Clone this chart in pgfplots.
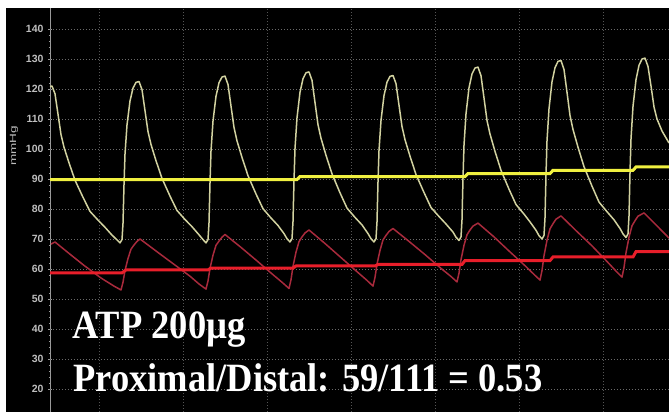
\documentclass[border=0pt]{standalone}
\usepackage{fontspec}
\setmainfont{Liberation Serif}
\newfontfamily\sansf{Liberation Sans}
\usepackage{pgfplots}
\pgfplotsset{compat=1.18}
\definecolor{axisgray}{HTML}{9A9A9A}
\definecolor{labelgray}{HTML}{BEBEBE}
\definecolor{gridgray}{HTML}{6A6A6A}
\definecolor{ytrace}{HTML}{D2D2A0}
\definecolor{ymean}{HTML}{F0F040}
\definecolor{rtrace}{HTML}{A82A3C}
\definecolor{rmean}{HTML}{E81E2A}
\begin{document}
\begin{tikzpicture}
\begin{axis}[
  name=ax, scale only axis, width=663pt, height=404pt,
  xmin=-44, xmax=619, ymin=12.33, ymax=147,
  axis x line=none, axis y line=center,
  axis line style={-, draw=axisgray, line width=0.8pt},
  ytick={20,30,40,50,60,70,80,90,100,110,120,130,140}, minor y tick num=4,
  xtick=\empty,
  major tick length=4pt, minor tick length=2.5pt,
  tick style={draw=axisgray, line width=0.6pt},
  /pgf/number format/assume math mode=true,
  yticklabel style={font=\sansf\bfseries\fontsize{10.5}{11}\selectfont, text=labelgray, anchor=east, xshift=-1pt},
  axis background/.style={fill=black},
]
\pgfplotsinvokeforeach{20,30,40,50,60,70,80,90,100,110,120,130,140}{
  \draw[gridgray, line width=0.7pt, dash pattern=on 1pt off 2pt] (axis cs:0,#1) -- (axis cs:619,#1);
}
\pgfplotsinvokeforeach{49,133,217,301,385,469,553}{
  \draw[gridgray!80!black, line width=0.6pt, dash pattern=on 1pt off 2pt] (axis cs:#1,12.33) -- (axis cs:#1,147);
}
% aortic (proximal) phasic pressure
\addplot[ytrace, line width=1.5pt, line join=round] coordinates {
(0,120.8) (2,121) (5,118.4) (8,111.6) (11,104.8) (14,100.6) (19,95.4) (25,89.6) (33,83.9) (40,79.2) (48,76.3) (55,73.9) (62,71.3) (67,69.7) (70,68.7)
(72,69.8) (73,75.2) (74,88.1) (75,98.3) (77,108.0) (80,116.0) (83,120.3) (86,122.2) (89,122.5) (92,119.8) (95,112.8) (98,105.8) (101,101.5) (106,96.1) (112,90.2) (120,84.3) (127,79.5) (135,76.5) (142,74.1) (149,71.4) (153,69.8) (156,68.7)
(158,69.8) (159,75.4) (160,88.7) (161,99.3) (163,109.3) (166,117.6) (169,122.1) (172,124.0) (175,124.3) (178,121.5) (181,114.3) (184,107.2) (187,102.7) (192,97.2) (198,91.1) (206,85.0) (213,80.1) (221,77.0) (228,74.5) (234,71.8) (237,70.1) (240,69)
(242,70.1) (243,75.8) (244,89.4) (245,100.2) (247,110.4) (250,118.9) (253,123.4) (256,125.4) (259,125.7) (262,122.9) (265,115.5) (268,108.1) (271,103.6) (276,97.9) (282,91.7) (290,85.4) (297,80.3) (305,77.2) (312,74.7) (318,71.8) (321,70.1) (324,69)
(326,70.1) (327,75.7) (328,89.0) (329,99.5) (331,109.5) (334,117.8) (337,122.3) (340,124.2) (343,124.5) (346,121.8) (349,114.6) (352,107.5) (355,103.1) (360,97.6) (366,91.5) (374,85.5) (381,80.5) (389,77.5) (396,75.0) (403,72.3) (406,70.6) (409,69.5)
(411,70.7) (412,76.4) (413,90.3) (414,101.3) (416,111.7) (419,120.4) (422,125.0) (425,127.0) (428,127.3) (431,124.4) (434,117.0) (437,109.5) (440,105.0) (445,99.2) (451,92.9) (459,86.6) (466,81.5) (474,78.3) (480,75.7) (486,72.9) (489,71.1) (492,70)
(494,71.2) (495,77.1) (496,91.4) (497,102.7) (499,113.4) (502,122.4) (505,127.1) (508,129.2) (511,129.5) (514,126.5) (517,118.9) (520,111.2) (523,106.5) (528,100.6) (534,94.1) (542,87.6) (549,82.3) (557,79.1) (564,76.4) (570,73.5) (573,71.7) (576,70.5)
(578,71.7) (579,77.7) (580,92.0) (581,103.4) (583,114.2) (586,123.1) (589,127.9) (592,130.0) (595,130.3) (598,127.5) (601,121) (604,114) (607,110) (612,106) (619,102)
};
% distal phasic pressure
\addplot[rtrace, line width=1.5pt, line join=round] coordinates {
(1,68.3) (5,69) (19,65.2) (34,61.2) (51,57) (64,54.3) (71,53)
(73,55.6) (75,59.5) (78,63.5) (81,66.6) (84,68.0) (87,69.2) (90,70) (106,66.0) (123,61.8) (140,57.6) (149,55.0) (156,53.3)
(158,56.0) (160,60.2) (163,64.6) (166,67.9) (169,69.3) (172,70.6) (175,71.5) (191,67.2) (207,62.7) (223,58.1) (233,55.3) (239,53.5)
(241,56.4) (243,60.9) (246,65.6) (249,69.1) (252,70.7) (255,72.0) (259,73) (275,68.5) (291,63.8) (307,59.1) (317,56.2) (323,54.3)
(325,57.2) (327,61.6) (330,66.2) (333,69.7) (336,71.2) (339,72.5) (343,73.5) (359,69.2) (375,64.8) (391,60.2) (401,57.5) (407,55.7)
(409,58.6) (411,63.1) (414,67.9) (417,71.4) (420,73.0) (423,74.3) (428,75.3) (444,70.7) (459,66.0) (475,61.1) (484,58.2) (490,56.3)
(492,59.5) (494,64.4) (497,69.6) (500,73.4) (503,75.1) (506,76.6) (511,77.7) (526,72.8) (542,67.7) (557,62.5) (566,59.3) (572,57.3)
(574,60.5) (576,65.4) (579,70.6) (582,74.4) (585,76.1) (588,77.6) (594,78.7) (606,74.7) (619,70.3)
};
% mean proximal pressure
\addplot[ymean, line width=3pt] coordinates {
(0,89.8) (247,89.8) (250,90.8) (415,90.8) (418,91.8) (500,91.8) (503,92.9) (583,92.9) (586,94) (619,94)
};
% mean distal pressure
\addplot[rmean, line width=3pt] coordinates {
(0,58.7) (72,58.7) (76,59.7) (158,59.7) (161,60.3) (243,60.3) (246,61) (325,61) (328,61.5) (412,61.5) (415,62.8) (500,62.8) (503,64) (583,64) (586,65.8) (619,65.8)
};
\node[rotate=90, text=labelgray, inner sep=0pt] at (axis cs:-36,101) {\scalebox{1.5}[1]{\sansf\fontsize{9}{9}\selectfont mmHg}};
\node[anchor=base west, inner sep=0pt, text=white, font=\fontsize{36.5}{40}\selectfont\bfseries] at (axis cs:22,36.67) {\scalebox{1}[1.1]{ATP 200µg}};
\node[anchor=base west, inner sep=0pt, text=white, font=\fontsize{36.5}{40}\selectfont\bfseries] at (axis cs:23,19.0) {\scalebox{1}[1.1]{Proximal/Distal: 59/111 = 0.53}};
\end{axis}
\fill[white] ([xshift=-6pt]ax.south west) rectangle (ax.north west);
\fill[white] ([xshift=-6pt]ax.north west) rectangle ([yshift=8pt]ax.north east);
\pgfresetboundingbox
\path[use as bounding box] ([xshift=-6pt]ax.south west) rectangle ([yshift=8pt]ax.north east);
\end{tikzpicture}
\end{document}
